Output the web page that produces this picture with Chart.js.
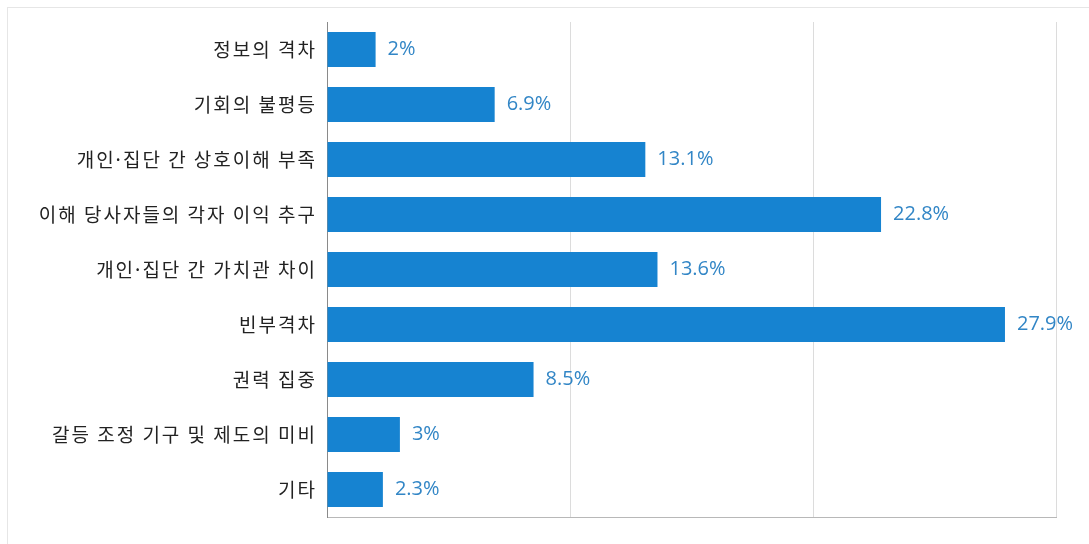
<!DOCTYPE html>
<html lang="ko">
<head>
<meta charset="utf-8">
<script src="https://cdn.jsdelivr.net/npm/chart.js@4"></script>
<style>
    html, body { margin: 0; padding: 0; background: #fff; overflow: hidden; }
    #frame {
        position: absolute; left: 7px; top: 7px; width: 1200px; height: 700px;
        border: 1px solid #e6e6e6;
    }
    #wrap { position: absolute; left: 0; top: 0; width: 1089px; height: 544px; }
</style>
</head>
<body>
<div id="frame"></div>
<div id="wrap"><canvas id="conflictChart"></canvas></div>
<script>
// 갈등 원인 응답 비율 (%)
const categories = [
    "정보의 격차",
    "기회의 불평등",
    "개인·집단 간 상호이해 부족",
    "이해 당사자들의 각자 이익 추구",
    "개인·집단 간 가치관 차이",
    "빈부격차",
    "권력 집중",
    "갈등 조정 기구 및 제도의 미비",
    "기타",
];
const shares = [2, 6.9, 13.1, 22.8, 13.6, 27.9, 8.5, 3, 2.3];

const barColor = "#1683d1";
const valueColor = "#3286c6";

// 한글 라벨 자간을 조금 넓힘 (축 그릴 때만)
const labelSpacing = {
    id: "labelSpacing",
    beforeDraw(chart) { chart.ctx.letterSpacing = "2px"; },
    beforeDatasetsDraw(chart) { chart.ctx.letterSpacing = "0px"; },
};

// 막대 끝에 값 표시
const valueLabels = {
    id: "valueLabels",
    afterDatasetsDraw(chart) {
        const ctx = chart.ctx;
        const meta = chart.getDatasetMeta(0);
        ctx.save();
        ctx.letterSpacing = "0px";
        ctx.font = "20px 'Open Sans', 'Noto Sans', sans-serif";
        ctx.fillStyle = valueColor;
        ctx.textAlign = "left";
        ctx.textBaseline = "middle";
        meta.data.forEach((bar, i) => {
            ctx.fillText(shares[i] + "%", bar.x + 12, bar.y);
        });
        ctx.restore();
    },
};

document.addEventListener("DOMContentLoaded", () => {
    const canvas = document.getElementById("conflictChart");
    new Chart(canvas, {
        type: "bar",
        data: {
            labels: categories,
            datasets: [
                {
                    data: shares,
                    backgroundColor: barColor,
                    borderWidth: 0,
                    categoryPercentage: 0.64,
                    barPercentage: 1,
                },
            ],
        },
        options: {
            indexAxis: "y",
            responsive: true,
            maintainAspectRatio: false,
            animation: false,
            layout: { padding: { left: 0, right: 33, top: 22, bottom: 27 } },
            plugins: {
                legend: { display: false },
                tooltip: { enabled: false },
            },
            scales: {
                x: {
                    min: 0,
                    max: 30,
                    ticks: { display: false, stepSize: 10 },
                    grid: { color: "#dcdcdc", drawTicks: false },
                    border: { color: "#b8b8b8", width: 1 },
                },
                y: {
                    afterFit: (scale) => { scale.width = 327; },
                    ticks: {
                        color: "#222",
                        padding: 10,
                        font: { size: 19, family: "'Noto Sans CJK KR', sans-serif" },
                    },
                    grid: { display: false, drawTicks: false },
                    border: { color: "#8a8a8a", width: 1 },
                },
            },
        },
        plugins: [labelSpacing, valueLabels],
    });
});
</script>
</body>
</html>
